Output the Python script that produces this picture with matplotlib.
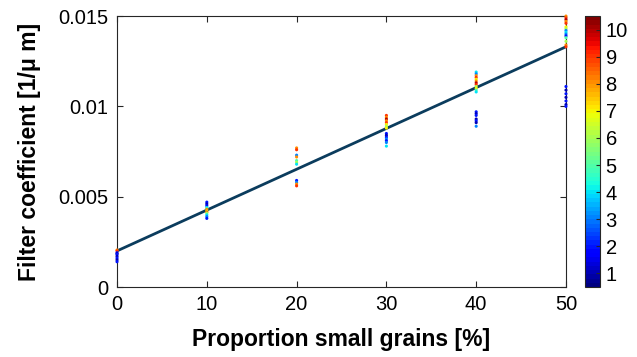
import numpy as np
import matplotlib
matplotlib.use("Agg")
import matplotlib.pyplot as plt

plt.rcParams['font.family'] = ['Liberation Sans', 'DejaVu Sans']

# proportion of small grains [%] per point, filter coefficient, colour value
x_0 = [0] * 9
y_0 = [0.00205, 0.0020, 0.0019, 0.00185, 0.0018, 0.0017, 0.0016, 0.0015, 0.0014]
c_0 = [8, 9, 2, 1, 2, 1, 2, 1, 2]

x_10 = [10] * 12
y_10 = [0.0047, 0.0046, 0.0045, 0.0044, 0.00435, 0.0043, 0.0042, 0.00415, 0.0041, 0.0040, 0.0039, 0.0038]
c_10 = [2, 1, 2, 4, 5, 8, 7, 9, 6, 4, 3, 2]

x_20 = [20] * 11
y_20 = [0.0077, 0.0076, 0.0073, 0.0072, 0.0070, 0.0069, 0.0068, 0.0059, 0.0058, 0.0057, 0.0056]
c_20 = [8, 9, 3, 8, 5, 6, 4, 2, 3, 8, 9]

x_30 = [30] * 15
y_30 = [0.0095, 0.0094, 0.0093, 0.0092, 0.0091, 0.0090, 0.0089, 0.0088,
        0.0085, 0.0084, 0.0083, 0.0082, 0.0081, 0.0080, 0.0078]
c_30 = [9, 8, 10, 8, 9, 7, 6, 7, 2, 1, 2, 3, 2, 3, 4]

x_40 = [40] * 19
y_40 = [0.0119, 0.0118, 0.0117, 0.0116, 0.0115, 0.0114, 0.0113, 0.0112, 0.0111, 0.0110,
        0.0109, 0.0108, 0.0097, 0.0096, 0.0095, 0.0093, 0.0092, 0.0091, 0.0089]
c_40 = [4, 3, 8, 9, 7, 8, 10, 9, 6, 7, 5, 4, 2, 1, 2, 1, 2, 1, 3]

x_50 = [50] * 22
y_50 = [0.0150, 0.0149, 0.0148, 0.0147, 0.0146, 0.0144, 0.0143, 0.0142, 0.0141, 0.0140,
        0.0139, 0.0138, 0.0136, 0.0134, 0.0133, 0.0111, 0.0109, 0.0107, 0.0105, 0.0103,
        0.0101, 0.0100]
c_50 = [8, 9, 10, 8, 9, 7, 6, 3, 4, 3, 2, 5, 6, 8, 9, 2, 1, 2, 1, 2, 1, 2]

fit_x = [0, 50]
fit_y = [0.0020, 0.0133]

xs = x_0 + x_10 + x_20 + x_30 + x_40 + x_50
ys = y_0 + y_10 + y_20 + y_30 + y_40 + y_50
cs = c_0 + c_10 + c_20 + c_30 + c_40 + c_50

fig = plt.figure(figsize=(6.37, 3.57), dpi=100)
ax = fig.add_axes([0.1837, 0.196, 0.7048, 0.759])
cax = fig.add_axes([0.919, 0.196, 0.023, 0.759])

cmap = plt.get_cmap('jet', 64)
sc = ax.scatter(xs, ys, c=cs, cmap=cmap, vmin=0.5, vmax=10.5, s=5, marker='o',
                linewidths=0, zorder=3, clip_on=False)
ax.plot(fit_x, fit_y, color='#0b3c5d', lw=2, zorder=2)

ax.set_xlim(0, 50)
ax.set_ylim(0, 0.015)
ax.set_xticks([0, 10, 20, 30, 40, 50])
ax.set_yticks([0, 0.005, 0.01, 0.015])
ax.set_yticklabels(['0', '0.005', '0.01', '0.015'])
ax.tick_params(direction='in', top=True, right=True, length=4, width=0.8,
               labelsize=14.5, colors='#262626', pad=6)
for tl in ax.get_xticklabels() + ax.get_yticklabels():
    tl.set_color('black')
for sp in ax.spines.values():
    sp.set_color('#262626')
    sp.set_linewidth(0.8)

ax.set_xlabel('Proportion small grains [%]', fontsize=16.5, fontweight='bold', labelpad=10)
ax.set_ylabel('Filter coefficient [1/\u03bc m]', fontsize=16.5, fontweight='bold', labelpad=13)

cb = fig.colorbar(sc, cax=cax)
cb.set_ticks(range(1, 11))
cb.ax.tick_params(direction='in', length=3, width=0.8, labelsize=14.5, colors='#262626', pad=4)
for tl in cb.ax.get_yticklabels():
    tl.set_color('black')
cb.outline.set_edgecolor('#262626')
cb.outline.set_linewidth(0.8)

fig.savefig('out.png', dpi=100)
